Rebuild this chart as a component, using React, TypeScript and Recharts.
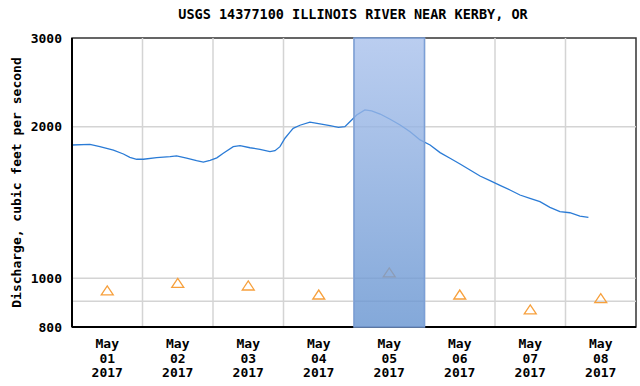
import React from 'react';
import {
  ComposedChart,
  Line,
  Scatter,
  XAxis,
  YAxis,
  ReferenceLine,
  ReferenceArea,
} from 'recharts';

// hours since May 01 00:00, discharge in ft3/s
const flow = [
  { t: 0, v: 1839 }, { t: 6.1, v: 1845 }, { t: 9.5, v: 1825 }, { t: 14.1, v: 1797 },
  { t: 17.5, v: 1765 }, { t: 19.7, v: 1738 }, { t: 22.0, v: 1723 }, { t: 24.3, v: 1723 },
  { t: 28.8, v: 1736 }, { t: 33.4, v: 1743 }, { t: 35.6, v: 1749 }, { t: 39.0, v: 1731 },
  { t: 42.4, v: 1712 }, { t: 44.7, v: 1701 }, { t: 47.0, v: 1715 }, { t: 49.3, v: 1734 },
  { t: 51.5, v: 1771 }, { t: 54.9, v: 1825 }, { t: 57.2, v: 1833 }, { t: 60.6, v: 1816 },
  { t: 64.0, v: 1803 }, { t: 67.4, v: 1784 }, { t: 69.1, v: 1792 }, { t: 70.8, v: 1825 },
  { t: 72.5, v: 1897 }, { t: 74.2, v: 1950 }, { t: 75.3, v: 1985 }, { t: 77.6, v: 2013 },
  { t: 81.0, v: 2041 }, { t: 84.4, v: 2025 }, { t: 87.8, v: 2009 }, { t: 90.7, v: 1994 },
  { t: 92.9, v: 2000 }, { t: 94.6, v: 2046 }, { t: 96.9, v: 2110 }, { t: 99.7, v: 2159 },
  { t: 102.0, v: 2149 }, { t: 104.9, v: 2119 }, { t: 108.3, v: 2069 }, { t: 111.7, v: 2015 },
  { t: 115.1, v: 1954 }, { t: 118.5, v: 1882 }, { t: 121.9, v: 1839 }, { t: 125.3, v: 1776 },
  { t: 128.7, v: 1731 }, { t: 132.1, v: 1686 }, { t: 135.5, v: 1640 }, { t: 138.9, v: 1596 },
  { t: 142.3, v: 1562 }, { t: 145.7, v: 1529 }, { t: 149.1, v: 1497 }, { t: 152.5, v: 1463 },
  { t: 155.9, v: 1441 }, { t: 159.3, v: 1419 }, { t: 162.7, v: 1383 }, { t: 166.1, v: 1356 },
  { t: 169.5, v: 1349 }, { t: 172.9, v: 1329 }, { t: 175.8, v: 1321 },
];

// daily median statistic, plotted at noon
const medians = [
  { t: 12, v: 944 }, { t: 36, v: 977 }, { t: 60, v: 965 }, { t: 84, v: 926 },
  { t: 108, v: 1025 }, { t: 132, v: 926 }, { t: 156, v: 865 }, { t: 180, v: 911 },
];

const dayLabels = ['01', '02', '03', '04', '05', '06', '07', '08'];
const labelTicks = [12, 36, 60, 84, 108, 132, 156, 180];
const midnights = [24, 48, 72, 96, 120, 144, 168];
const yTicks = [800, 1000, 2000, 3000];
const yGrid = [900, 1000, 2000];

const FONT = '"DejaVu Sans Mono", monospace';

function DayTick({ x, y, payload }: any) {
  const i = labelTicks.indexOf(payload.value);
  return (
    <text x={x} y={y} textAnchor="middle" fontFamily={FONT} fontWeight="bold" fontSize={13} fill="#000">
      <tspan x={x} dy={13}>May</tspan>
      <tspan x={x} dy={14.5}>{dayLabels[i]}</tspan>
      <tspan x={x} dy={14.5}>2017</tspan>
    </text>
  );
}

function Triangle({ cx, cy }: any) {
  return (
    <polygon
      points={`${cx - 6},${cy + 4} ${cx},${cy - 5} ${cx + 6},${cy + 4}`}
      fill="none"
      stroke="#f7a03c"
      strokeWidth={1.3}
    />
  );
}

export default function App() {
  return (
    <div style={{ position: 'absolute', left: 0, top: 0, width: 640, height: 386, background: '#fff' }}>
      <div
        style={{
          position: 'absolute', left: 0, width: 706, top: 6, textAlign: 'center',
          fontFamily: FONT, fontWeight: 'bold', fontSize: 13.5, color: '#000',
        }}
      >
        USGS 14377100 ILLINOIS RIVER NEAR KERBY, OR
      </div>
      <ComposedChart width={640} height={386} margin={{ top: 38, right: 4, bottom: 0, left: 0 }}>
        <defs>
          <linearGradient id="dayShade" x1="0" y1="0" x2="0" y2="1">
            <stop offset="0%" stopColor="#a9c1ec" />
            <stop offset="100%" stopColor="#6593d0" />
          </linearGradient>
        </defs>
        <XAxis
          dataKey="t"
          type="number"
          domain={[0, 192]}
          ticks={labelTicks}
          tick={<DayTick />}
          tickLine={false}
          axisLine={{ stroke: '#000', strokeWidth: 2 }}
          height={59}
          allowDataOverflow
        />
        <YAxis
          dataKey="v"
          type="number"
          scale="log"
          domain={[800, 3000]}
          ticks={yTicks}
          tickLine={false}
          tickMargin={4}
          width={72}
          allowDataOverflow
          axisLine={{ stroke: '#000', strokeWidth: 2 }}
          tick={{ fontFamily: FONT, fontWeight: 'bold', fontSize: 13, fill: '#000' }}
          label={{
            value: 'Discharge, cubic feet per second',
            angle: -90,
            position: 'insideLeft',
            offset: 16,
            style: { textAnchor: 'middle', fontFamily: FONT, fontWeight: 'bold', fontSize: 13, fill: '#000' },
          }}
        />
        {yGrid.map((g) => (
          <ReferenceLine key={`h${g}`} y={g} stroke="#d4d4d4" strokeWidth={1.5} />
        ))}
        {midnights.map((m) => (
          <ReferenceLine key={`v${m}`} x={m} stroke="#d4d4d4" strokeWidth={1.5} />
        ))}
        <ReferenceArea x1={0} x2={192} y1={800} y2={3000} fill="none" stroke="#333" strokeWidth={1.5} />
        <Line
          data={flow}
          dataKey="v"
          type="linear"
          stroke="#2a7bd6"
          strokeWidth={1.3}
          dot={false}
          isAnimationActive={false}
        />
        <Scatter data={medians} dataKey="v" shape={<Triangle />} isAnimationActive={false} />
        <ReferenceArea
          x1={96}
          x2={120}
          y1={800}
          y2={3000}
          fill="url(#dayShade)"
          fillOpacity={0.8}
          stroke="#7b9fd6"
          strokeWidth={1.5}
          zIndex={2000}
        />
      </ComposedChart>
    </div>
  );
}
